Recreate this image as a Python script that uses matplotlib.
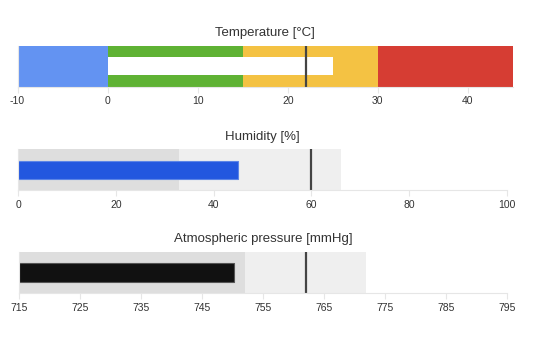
import matplotlib.pyplot as plt

plt.rcParams['font.family'] = ['Liberation Sans', 'DejaVu Sans']

# Temperatura: faixas coloridas, valor e meta
temp_limites = [-10, 0, 15, 30, 45]
temp_cores = ["#6393f2", "#5fb234", "#f4c243", "#d63d33"]
temp_valor = 25
temp_meta = 22
temp_ticks = [-10, 0, 10, 20, 30, 40]

# Umidade
umid_faixas = [0, 33, 66]
umid_valor = 45
umid_meta = 60
umid_ticks = [0, 20, 40, 60, 80, 100]

# Pressão atmosférica
pres_faixas = [715, 752, 772]
pres_valor = 750.3
pres_meta = 762
pres_ticks = [715, 725, 735, 745, 755, 765, 775, 785, 795]

fig = plt.figure(figsize=(5.51, 3.42), dpi=100)


def estilo_eixo(ax, ticks, titulo):
    ax.set_xlim(ticks[0], ticks[-1])
    ax.set_ylim(0, 1)
    ax.set_yticks([])
    ax.set_xticks(ticks)
    ax.set_xticklabels([str(t) for t in ticks])
    for lado in ["top", "right"]:
        ax.spines[lado].set_visible(False)
    ax.spines["left"].set_color("#e6e6e6")
    ax.spines["bottom"].set_color("#e6e6e6")
    ax.tick_params(axis="x", length=4, color="#e6e6e6", labelsize=7.5,
                   labelcolor="#333333", pad=3)
    ax.set_title(titulo, fontsize=9.5, color="#333333", pad=7)


# --- Temperatura ---
ax1 = fig.add_axes([0.0318, 0.7465, 0.8993, 0.1199])
for i, cor in enumerate(temp_cores):
    ax1.barh(0.5, temp_limites[i + 1] - temp_limites[i], left=temp_limites[i],
             height=1.0, color=cor, linewidth=0)
ax1.barh(0.5, temp_valor, left=0, height=0.45, color="white", linewidth=0)
ax1.plot([temp_meta, temp_meta], [0, 1], color="#444444", lw=1.6)
estilo_eixo(ax1, temp_ticks, "Temperature [°C]")
ax1.set_xlim(-10, 45)

# --- Umidade ---
ax2 = fig.add_axes([0.0332, 0.4444, 0.8864, 0.119])
ax2.barh(0.5, umid_faixas[1] - umid_faixas[0], left=umid_faixas[0], height=1.0,
         color="#dedede", linewidth=0)
ax2.barh(0.5, umid_faixas[2] - umid_faixas[1], left=umid_faixas[1], height=1.0,
         color="#efefef", linewidth=0)
ax2.barh(0.5, umid_valor, left=0, height=0.45, color="#2257df",
         edgecolor="#5c85e6", linewidth=0.8)
ax2.plot([umid_meta, umid_meta], [0, 1], color="#444444", lw=1.6)
estilo_eixo(ax2, umid_ticks, "Humidity [%]")

# --- Pressão ---
ax3 = fig.add_axes([0.0345, 0.1424, 0.8851, 0.1216])
ax3.barh(0.5, pres_faixas[1] - pres_faixas[0], left=pres_faixas[0], height=1.0,
         color="#dedede", linewidth=0)
ax3.barh(0.5, pres_faixas[2] - pres_faixas[1], left=pres_faixas[1], height=1.0,
         color="#efefef", linewidth=0)
ax3.barh(0.5, pres_valor - pres_ticks[0], left=pres_ticks[0], height=0.45,
         color="#111111", edgecolor="#555555", linewidth=0.8)
ax3.plot([pres_meta, pres_meta], [0, 1], color="#444444", lw=1.6)
estilo_eixo(ax3, pres_ticks, "Atmospheric pressure [mmHg]")

fig.savefig("out.png", dpi=100)
